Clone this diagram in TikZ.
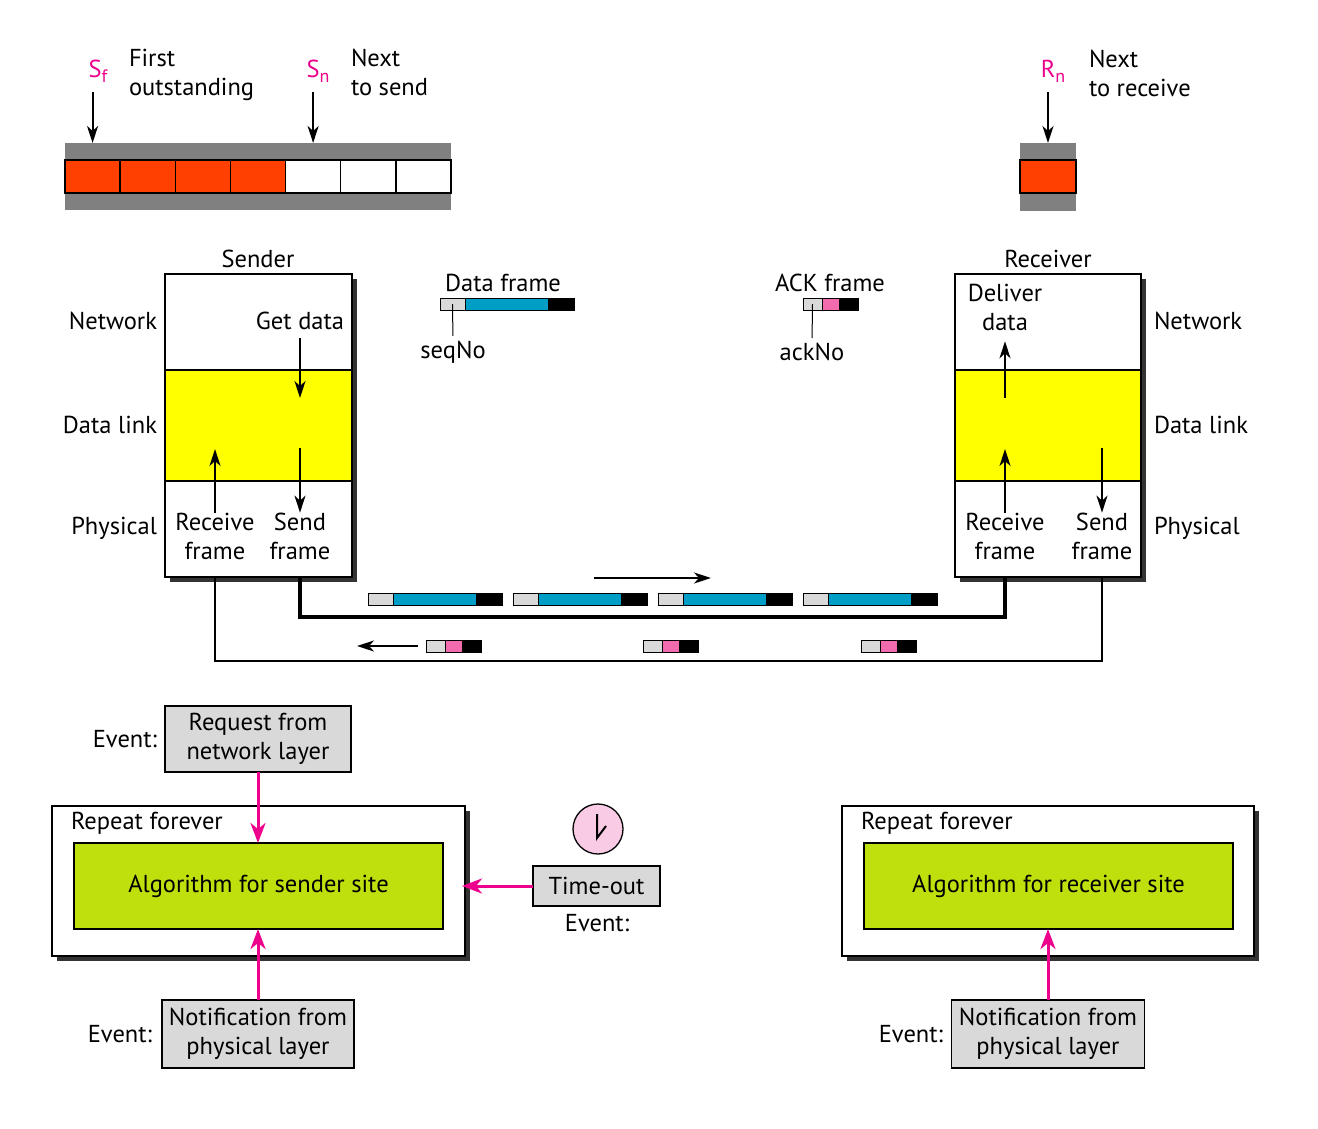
\documentclass[tikz,border=0pt]{standalone}
\usepackage{fontspec}
\setmainfont{PT Sans}
\usetikzlibrary{arrows.meta,calc}
\definecolor{wred}{HTML}{FF4000}
\definecolor{wgray}{HTML}{808080}
\definecolor{lgray}{HTML}{D9D9D9}
\definecolor{fblue}{HTML}{009EC6}
\definecolor{fpink}{HTML}{F26BAE}
\definecolor{mag}{HTML}{EC008C}
\definecolor{lyel}{HTML}{FFFF00}
\definecolor{algreen}{HTML}{BFE00D}
\definecolor{clockpink}{HTML}{F9CBE4}
\definecolor{shad}{HTML}{333333}
\newcommand\SubTxt[1]{\raisebox{-5pt}{\fontsize{18}{18}\selectfont #1}}
\tikzset{
  txt/.style={inner sep=0pt, outer sep=0pt, font=\fontsize{24.5}{29}\selectfont},
  fpart/.style={draw=black, line width=1pt, anchor=north west, minimum height=12pt, inner sep=0pt, outer sep=0pt},
  cell/.style={draw=black, line width=1.5pt, anchor=north west, minimum width=55.14pt, minimum height=33pt, inner sep=0pt, outer sep=0pt},
  layer/.style={draw=black, line width=1.3pt, anchor=north west, inner sep=0pt, outer sep=0pt},
  arr/.style={-{Stealth[length=17pt,width=11pt,inset=5pt]}, line width=2pt},
  parr/.style={-{Stealth[length=20pt,width=15pt,inset=6pt]}, line width=3pt, draw=mag},
  evbox/.style={draw=black, fill=lgray, line width=1.3pt, align=center, inner sep=0pt, outer sep=0pt, font=\fontsize{24.5}{29}\selectfont},
  outbox/.style={draw=black, fill=white, line width=1.3pt, anchor=north west, inner sep=0pt, outer sep=0pt},
  algbox/.style={draw=black, fill=algreen, line width=1.3pt, anchor=north west, inner sep=0pt, outer sep=0pt},
}
\newcommand\DataFrm[3]{%
  \node[fpart, fill=lgray, minimum width=25pt] (#1a) at (#2,#3) {};
  \node[fpart, fill=fblue, minimum width=83pt] (#1b) at (#1a.north east) {};
  \node[fpart, fill=black, minimum width=26pt] (#1c) at (#1b.north east) {};}
\newcommand\AckFrm[3]{%
  \node[fpart, fill=lgray, minimum width=19pt] (#1a) at (#2,#3) {};
  \node[fpart, fill=fpink, minimum width=17pt] (#1b) at (#1a.north east) {};
  \node[fpart, fill=black, minimum width=19pt] (#1c) at (#1b.north east) {};}
\begin{document}
\begin{tikzpicture}[x=1pt,y=-1pt]
\useasboundingbox (0,0) rectangle (1318,1128);

% ---------- sender window ----------
\node[fill=wgray, anchor=north west, minimum width=386pt, minimum height=67pt, inner sep=0pt, outer sep=0pt] (wband) at (65,143) {};
\node[cell, fill=wred] (c1) at (65,160) {};
\node[cell, fill=wred] (c2) at (c1.north east) {};
\node[cell, fill=wred] (c3) at (c2.north east) {};
\node[cell, fill=wred] (c4) at (c3.north east) {};
\node[cell, fill=white] (c5) at (c4.north east) {};
\node[cell, fill=white] (c6) at (c5.north east) {};
\node[cell, fill=white] (c7) at (c6.north east) {};
\node[txt, text=mag] (sf) at (98,71) {S\SubTxt{f}};
\node[txt, align=left, anchor=north west] (sfl) at (129,49) {First\\outstanding};
\node[txt, text=mag] (sn) at (318,71) {S\SubTxt{n}};
\node[txt, align=left, anchor=north west] (snl) at (351,49) {Next\\to send};
\draw[arr, shorten <=10pt] (sf.south -| c1) -- (c1.north |- wband.north);
\draw[arr, shorten <=10pt] (sn.south -| c5) -- (c5.north |- wband.north);

% ---------- receiver window ----------
\node[fill=wgray, anchor=north west, minimum width=56pt, minimum height=68pt, inner sep=0pt, outer sep=0pt] (rband) at (1020,143) {};
\node[cell, fill=wred, minimum width=56pt] (rc1) at (1020,160) {};
\node[txt, text=mag] (rn) at (1053,71) {R\SubTxt{n}};
\node[txt, align=left, anchor=north west] (rnl) at (1089,50) {Next\\to receive};
\draw[arr, shorten <=10pt] (rn.south -| rc1) -- (rc1.north |- rband.north);

% ---------- sender stack ----------
\fill[shad] (170,279) rectangle (357,582);
\node[layer, fill=white, minimum width=187pt, minimum height=96pt] (snet) at (165,274) {};
\node[layer, fill=lyel, minimum width=187pt, minimum height=111pt] (sdl) at (165,370) {};
\node[layer, fill=white, minimum width=187pt, minimum height=96pt] (sphy) at (165,481) {};
\node[txt] (sender) at (258,259) {Sender};
\node[txt, anchor=east] (snetl) at (157,321) {Network};
\node[txt, anchor=east] (sdll) at (157,425) {Data link};
\node[txt, anchor=east] (sphyl) at (157,528) {Physical};
\node[txt] (gd) at (300,321) {Get data};
\node[txt, align=center] (srcv) at (215,536) {Receive\\frame};
\node[txt, align=center] (ssend) at (300,536) {Send\\frame};
\coordinate (gdTip) at (300,398);
\coordinate (ssTail) at (300,448);
\coordinate (srTip) at (215,449);
\draw[arr, shorten <=8pt] (gd.south) -- (gdTip);
\draw[arr] (ssTail) -- (ssend.north);
\draw[arr] (srcv.north) -- (srTip);

% ---------- receiver stack ----------
\fill[shad] (960,279) rectangle (1146,582);
\node[layer, fill=white, minimum width=186pt, minimum height=96pt] (rnet) at (955,274) {};
\node[layer, fill=lyel, minimum width=186pt, minimum height=111pt] (rdl) at (955,370) {};
\node[layer, fill=white, minimum width=186pt, minimum height=96pt] (rphy) at (955,481) {};
\node[txt] (receiver) at (1048,259) {Receiver};
\node[txt, anchor=west] (rnetl) at (1154,321) {Network};
\node[txt, anchor=west] (rdll) at (1154,425) {Data link};
\node[txt, anchor=west] (rphyl) at (1154,528) {Physical};
\node[txt, align=center] (dd) at (1005,307) {Deliver\\data};
\node[txt, align=center] (rrcv) at (1005,536) {Receive\\frame};
\node[txt, align=center] (rsend) at (1102,536) {Send\\frame};
\coordinate (ddTail) at (1005,398);
\coordinate (rrTip) at (1005,449);
\coordinate (rsTail) at (1102,448);
\draw[arr, shorten >=11pt] (ddTail) -- (dd.south);
\draw[arr] (rrcv.north) -- (rrTip);
\draw[arr] (rsTail) -- (rsend.north);

% ---------- links ----------
\draw[line width=3.5pt] (ssend |- sphy.south) -- ++(0,40) -| (rrcv |- rphy.south);
\draw[line width=2.5pt] (rsend |- rphy.south) -- ++(0,84) -| (srcv |- sphy.south);

% ---------- legend ----------
\node[txt] (dfl) at (503,283) {Data frame};
\DataFrm{lg}{440}{298}
\node[txt] (seqno) at (453,352) {seqNo};
\draw[line width=1pt, shorten >=5pt] (lga.center) -- (seqno.north);
\node[txt] (afl) at (830,283) {ACK frame};
\AckFrm{la}{803}{298}
\node[txt] (ackno) at (812,352) {ackNo};
\draw[line width=1pt, shorten >=5pt] (laa.center) -- (ackno.north);

% ---------- frames in transit ----------
\DataFrm{da}{368}{593}
\DataFrm{db}{513}{593}
\DataFrm{dc}{658}{593}
\DataFrm{dd}{803}{593}
\AckFrm{aa}{426}{640}
\AckFrm{ab}{643}{640}
\AckFrm{ac}{861}{640}
\coordinate (raS) at (594,578);
\coordinate (raE) at (711,578);
\draw[arr] (raS) -- (raE);
\coordinate (laS) at (418,646);
\coordinate (laE) at (357,646);
\draw[arr] (laS) -- (laE);

% ---------- sender algorithm ----------
\node[evbox, minimum width=186pt, minimum height=66pt] (req) at (258,739) {Request from\\network layer};
\node[txt, anchor=east] (ev1) at (157,739) {Event:};
\fill[shad] (57,811) rectangle (470,961);
\node[outbox, minimum width=413pt, minimum height=150pt] (rep1) at (52,806) {};
\node[txt, anchor=west] (rep1t) at (71,823) {Repeat forever};
\node[algbox, minimum width=369pt, minimum height=86pt] (alg1) at (74,843) {};
\node[txt] (alg1t) at (alg1.center) {Algorithm for sender site};
\node[evbox, minimum width=192pt, minimum height=68pt] (not1) at (258,1034) {Notification from\\physical layer};
\node[txt, anchor=east] (ev2) at (152,1034) {Event:};
\draw[parr] (req.south) -- (req.south |- alg1.north);
\draw[parr] (not1.north) -- (not1.north |- alg1.south);

\node[circle, draw=black, fill=clockpink, line width=1.3pt, minimum size=50pt, inner sep=0pt] (clock) at (598,829) {};
\coordinate (hTop) at (597,814);
\coordinate (hMid) at (597,838);
\coordinate (hEnd) at (606,826);
\draw[line width=2pt] (hTop) -- (hMid) -- (hEnd);
\node[evbox, minimum width=127pt, minimum height=40pt] (tout) at (596.5,886) {Time-out};
\node[txt] (ev3) at (597,923) {Event:};
\draw[parr, shorten >=-3pt] (tout.west) -- (tout.west -| rep1.east);

% ---------- receiver algorithm ----------
\fill[shad] (847,811) rectangle (1259,961);
\node[outbox, minimum width=412pt, minimum height=150pt] (rep2) at (842,806) {};
\node[txt, anchor=west] (rep2t) at (861,823) {Repeat forever};
\node[algbox, minimum width=369pt, minimum height=86pt] (alg2) at (864,843) {};
\node[txt] (alg2t) at (alg2.center) {Algorithm for receiver site};
\node[evbox, minimum width=193pt, minimum height=68pt] (not2) at (1048,1034) {Notification from\\physical layer};
\node[txt, anchor=east] (ev4) at (943,1034) {Event:};
\draw[parr] (not2.north) -- (not2.north |- alg2.south);
\end{tikzpicture}
\end{document}
